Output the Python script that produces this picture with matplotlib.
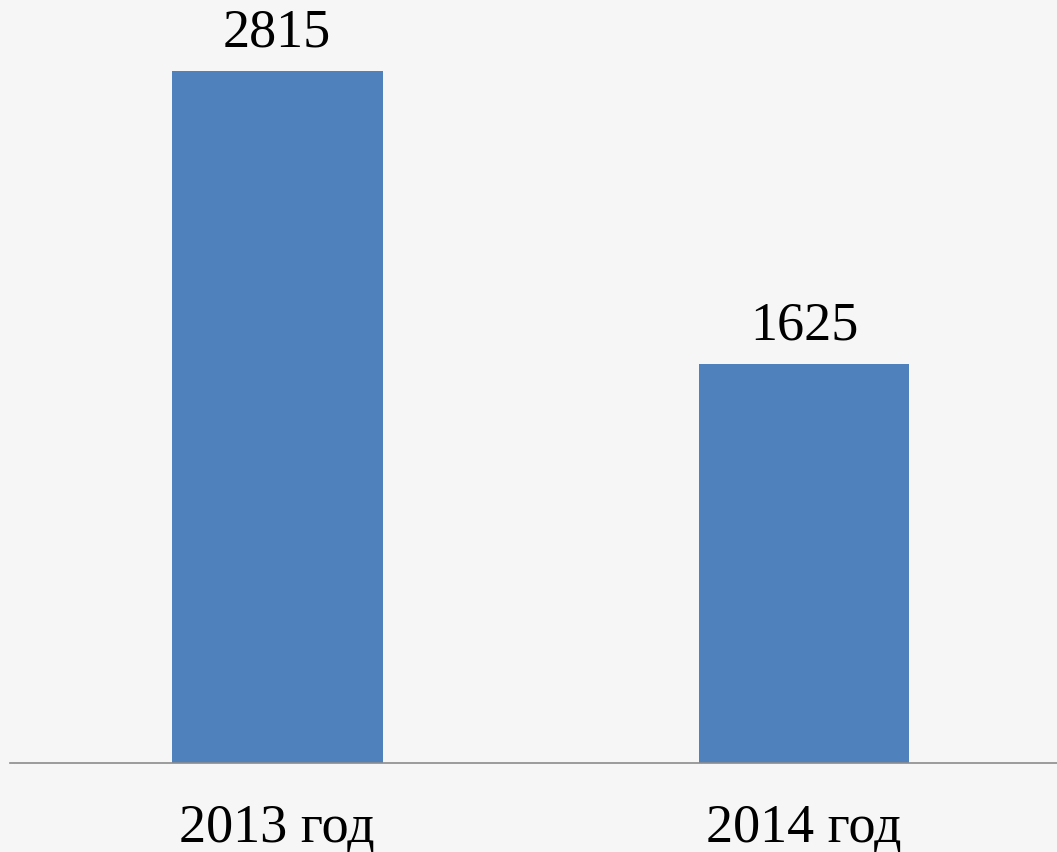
import numpy as np
import matplotlib.pyplot as plt

years = ["2013 год", "2014 год"]
values = [2815, 1625]

bar_color = "#4f81bd"
plt.rcParams['font.family'] = ['Liberation Serif', 'DejaVu Serif']

fig = plt.figure(figsize=(10.57, 8.52), dpi=100)
fig.patch.set_facecolor("#f6f6f7")

# axes spans from the baseline (y=763px) to the top of the picture
ax = fig.add_axes([10 / 1057, (852 - 763) / 852, 1 - 10 / 1057, 763 / 852])
ax.patch.set_alpha(0)

x = np.arange(len(years))
bars = ax.bar(x, values, width=0.4, color=bar_color, zorder=2)

ax.set_xlim(-0.507, 1.48)
ax.set_ylim(0, 3105)

for b, v in zip(bars, values):
    ax.annotate(str(v), (b.get_x() + b.get_width() / 2, v), xytext=(0, 9),
                textcoords="offset points", ha="center", va="bottom", fontsize=39)

ax.set_xticks(x)
ax.set_xticklabels(years, fontsize=39)
ax.tick_params(axis="x", length=0, pad=29)
ax.set_yticks([])
for s in ["top", "right", "left"]:
    ax.spines[s].set_visible(False)
ax.spines["bottom"].set_color("#8c8c8c")
ax.spines["bottom"].set_linewidth(1.2)

plt.savefig("out.png", dpi=100, facecolor=fig.get_facecolor())
